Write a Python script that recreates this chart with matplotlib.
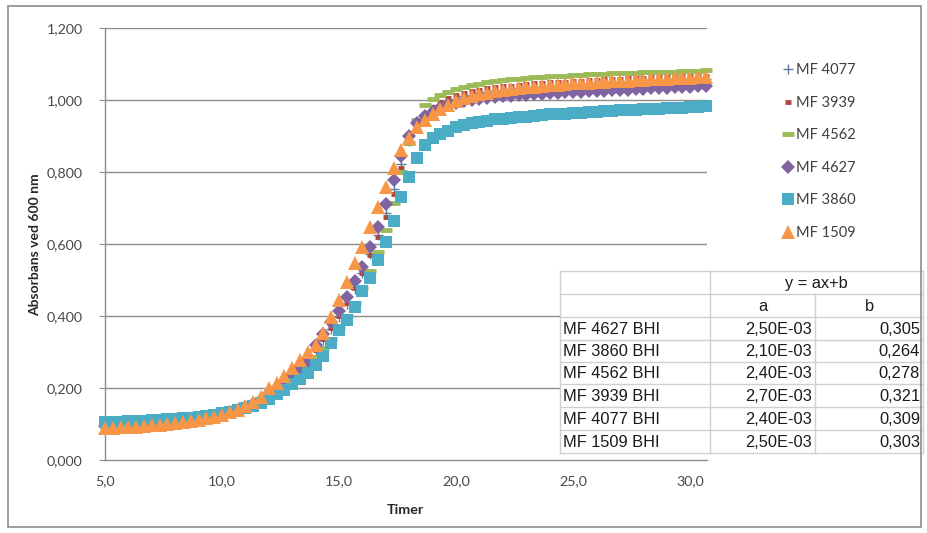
import numpy as np
import matplotlib
matplotlib.use("Agg")
import matplotlib.pyplot as plt
from matplotlib.ticker import FuncFormatter, FixedLocator
from matplotlib.patches import Rectangle

# ---- data -------------------------------------------------------------
hours = np.round(5 + np.arange(78) / 3.0, 3)   # 20-minute readings, 5.0 .. 30.67 h

mf4077 = [0.098, 0.098, 0.099, 0.100, 0.101, 0.102, 0.103, 0.105, 0.107, 0.109, 0.111, 0.114,
          0.117, 0.121, 0.125, 0.130, 0.135, 0.141, 0.149, 0.159, 0.170, 0.187, 0.202, 0.219,
          0.238, 0.259, 0.281, 0.306, 0.334, 0.365, 0.398, 0.434, 0.476, 0.520, 0.572, 0.625,
          0.685, 0.752, 0.822, 0.885, 0.930, 0.958, 0.975, 0.987, 0.997, 1.004, 1.010, 1.015,
          1.019, 1.022, 1.025, 1.028, 1.030, 1.032, 1.034, 1.036, 1.037, 1.039, 1.040, 1.041,
          1.043, 1.044, 1.045, 1.046, 1.047, 1.048, 1.049, 1.050, 1.051, 1.052, 1.053, 1.053,
          1.054, 1.055, 1.056, 1.056, 1.057, 1.058]
mf3939 = [0.097, 0.097, 0.098, 0.099, 0.100, 0.101, 0.102, 0.104, 0.106, 0.108, 0.110, 0.113,
          0.116, 0.120, 0.124, 0.129, 0.134, 0.140, 0.148, 0.158, 0.169, 0.186, 0.201, 0.218,
          0.237, 0.258, 0.280, 0.305, 0.335, 0.368, 0.400, 0.435, 0.478, 0.520, 0.570, 0.620,
          0.675, 0.740, 0.810, 0.880, 0.930, 0.960, 0.980, 0.995, 1.006, 1.014, 1.020, 1.025,
          1.029, 1.032, 1.035, 1.038, 1.040, 1.042, 1.044, 1.046, 1.047, 1.049, 1.050, 1.051,
          1.053, 1.054, 1.055, 1.056, 1.057, 1.058, 1.059, 1.060, 1.061, 1.062, 1.063, 1.063,
          1.064, 1.065, 1.066, 1.066, 1.067, 1.068]
mf4562 = [0.100, 0.100, 0.101, 0.102, 0.103, 0.104, 0.105, 0.107, 0.109, 0.111, 0.113, 0.116,
          0.119, 0.122, 0.126, 0.130, 0.135, 0.141, 0.148, 0.157, 0.167, 0.180, 0.194, 0.209,
          0.226, 0.244, 0.264, 0.286, 0.310, 0.337, 0.367, 0.400, 0.437, 0.478, 0.525, 0.578,
          0.640, 0.715, 0.800, 0.880, 0.945, 0.985, 1.002, 1.013, 1.022, 1.030, 1.036, 1.041,
          1.045, 1.049, 1.052, 1.055, 1.057, 1.059, 1.061, 1.063, 1.064, 1.066, 1.067, 1.068,
          1.069, 1.070, 1.071, 1.072, 1.073, 1.074, 1.075, 1.075, 1.076, 1.077, 1.077, 1.078,
          1.079, 1.079, 1.080, 1.080, 1.081, 1.082]
mf4627 = [0.095, 0.095, 0.096, 0.097, 0.098, 0.099, 0.100, 0.102, 0.104, 0.106, 0.108, 0.111,
          0.114, 0.118, 0.122, 0.127, 0.132, 0.138, 0.146, 0.156, 0.167, 0.185, 0.200, 0.216,
          0.235, 0.255, 0.275, 0.320, 0.350, 0.382, 0.415, 0.452, 0.496, 0.537, 0.592, 0.646,
          0.712, 0.778, 0.845, 0.900, 0.935, 0.955, 0.968, 0.978, 0.985, 0.991, 0.996, 1.000,
          1.003, 1.006, 1.008, 1.010, 1.012, 1.014, 1.015, 1.017, 1.018, 1.019, 1.020, 1.021,
          1.022, 1.023, 1.024, 1.025, 1.026, 1.027, 1.028, 1.029, 1.030, 1.031, 1.032, 1.033,
          1.034, 1.035, 1.036, 1.037, 1.038, 1.039]
mf3860 = [0.105, 0.105, 0.106, 0.107, 0.108, 0.109, 0.110, 0.111, 0.113, 0.114, 0.116, 0.118,
          0.120, 0.123, 0.126, 0.130, 0.134, 0.139, 0.145, 0.151, 0.158, 0.170, 0.182, 0.195,
          0.210, 0.226, 0.242, 0.265, 0.290, 0.325, 0.360, 0.390, 0.425, 0.470, 0.505, 0.555,
          0.605, 0.665, 0.730, 0.785, 0.840, 0.875, 0.895, 0.905, 0.915, 0.925, 0.930, 0.935,
          0.940, 0.943, 0.946, 0.948, 0.950, 0.952, 0.954, 0.956, 0.958, 0.960, 0.961, 0.962,
          0.964, 0.965, 0.966, 0.968, 0.969, 0.970, 0.971, 0.972, 0.973, 0.974, 0.975, 0.976,
          0.977, 0.978, 0.979, 0.980, 0.981, 0.982]
mf1509 = [0.090, 0.090, 0.091, 0.092, 0.093, 0.094, 0.096, 0.098, 0.100, 0.102, 0.105, 0.108,
          0.112, 0.116, 0.120, 0.126, 0.132, 0.140, 0.150, 0.162, 0.175, 0.200, 0.215, 0.232,
          0.255, 0.278, 0.300, 0.320, 0.352, 0.398, 0.444, 0.495, 0.546, 0.593, 0.648, 0.704,
          0.759, 0.810, 0.860, 0.895, 0.925, 0.945, 0.962, 0.975, 0.987, 0.997, 1.005, 1.011,
          1.016, 1.020, 1.024, 1.027, 1.030, 1.033, 1.035, 1.037, 1.039, 1.041, 1.043, 1.044,
          1.046, 1.047, 1.048, 1.050, 1.051, 1.052, 1.053, 1.054, 1.055, 1.056, 1.057, 1.058,
          1.059, 1.060, 1.061, 1.062, 1.063, 1.064]

series_names = ["MF 4077", "MF 3939", "MF 4562", "MF 4627", "MF 3860", "MF 1509"]
series_vals = [mf4077, mf3939, mf4562, mf4627, mf3860, mf1509]

x_ticks = [5, 10, 15, 20, 25, 30]
y_ticks = [0.0, 0.2, 0.4, 0.6, 0.8, 1.0, 1.2]

table_rows = ["MF 4627 BHI", "MF 3860 BHI", "MF 4562 BHI", "MF 3939 BHI", "MF 4077 BHI", "MF 1509 BHI"]
table_a = ["2,50E-03", "2,10E-03", "2,40E-03", "2,70E-03", "2,40E-03", "2,50E-03"]
table_b = ["0,305", "0,264", "0,278", "0,321", "0,309", "0,303"]

# ---- styles -----------------------------------------------------------
styles = [
    dict(marker="+", color="#5B7BA6", ms=7, mew=1.0),
    dict(marker="_", color="#B0473F", ms=5, mew=3.5),
    dict(marker="_", color="#9BBB59", ms=9, mew=3.5),
    dict(marker="D", color="#8064A2", ms=7.2, mew=0),
    dict(marker="s", color="#4BACC6", ms=8.4, mew=0),
    dict(marker="^", color="#F79646", ms=9.6, mew=0),
]

W, H = 928, 533
fig = plt.figure(figsize=(W / 100, H / 100), dpi=100)
fig.patch.set_facecolor("white")

def fx(px):
    return px / W

def fy(py):
    return 1 - py / H

left, right, top, bottom = 105, 707, 28, 460
ax = fig.add_axes([fx(left), fy(bottom), fx(right) - fx(left), (bottom - top) / H])
ax.set_xlim(5, 30.72)
ax.set_ylim(0, 1.2)

grid_c = "#8C8C8C"
for yv in y_ticks[1:]:
    ax.axhline(yv, color=grid_c, lw=1.0, zorder=0)

handles = []
for name, vals, st in zip(series_names, series_vals, styles):
    h, = ax.plot(hours, vals, linestyle="none", marker=st["marker"], color=st["color"],
                 markersize=st["ms"], markeredgewidth=st["mew"], label=name, clip_on=False,
                 zorder=3)
    handles.append(h)

for sp in ["top", "right"]:
    ax.spines[sp].set_visible(False)
for sp in ["left", "bottom"]:
    ax.spines[sp].set_color(grid_c)
    ax.spines[sp].set_linewidth(1.0)

ax.yaxis.set_major_locator(FixedLocator(y_ticks))
ax.xaxis.set_major_locator(FixedLocator(x_ticks))
ax.yaxis.set_major_formatter(FuncFormatter(lambda v, p: f"{v:.3f}".replace(".", ",")))
ax.xaxis.set_major_formatter(FuncFormatter(lambda v, p: f"{v:.1f}".replace(".", ",")))
ax.tick_params(axis="y", length=4, color=grid_c, pad=12, labelsize=10.3, labelcolor="#4a4a4a")
ax.tick_params(axis="x", length=0, pad=11, labelsize=10.3, labelcolor="#4a4a4a")
for lab in ax.get_xticklabels() + ax.get_yticklabels():
    lab.set_fontfamily("Lato")

fig.text(fx(35), fy(245), "Absorbans ved 600 nm", rotation=90, ha="center", va="center",
         fontsize=10, fontweight="bold", family="Lato", color="#262626")
fig.text(fx(405), fy(510), "Timer", ha="center", va="center",
         fontsize=10.3, fontweight="bold", family="Lato", color="#262626")

leg = fig.legend(handles=handles, loc="upper left", bbox_to_anchor=(fx(768), fy(50)),
                 frameon=False, handlelength=0.9, handletextpad=0.15, labelspacing=1.27,
                 prop=dict(family="Lato", size=10.5), numpoints=1)
for t in leg.get_texts():
    t.set_color("#404040")

# ---- overlay: table and frame ------------------------------------------
ov = fig.add_axes([0, 0, 1, 1], zorder=10)
ov.set_xlim(0, W)
ov.set_ylim(H, 0)
ov.axis("off")
ov.patch.set_alpha(0)

tx0, tx1, tx2, tx3 = 560, 710, 815, 923
ty = [271, 294, 317, 340, 362, 384, 407, 430, 453]
ov.add_patch(Rectangle((tx0, ty[0]), tx3 - tx0, ty[-1] - ty[0], facecolor="white",
                       edgecolor="none", zorder=1))
lc = "#D0D0D0"
for yy in ty:
    ov.plot([tx0, tx3], [yy, yy], color=lc, lw=1, zorder=2)
ov.plot([tx0, tx0], [ty[0], ty[-1]], color=lc, lw=1, zorder=2)
ov.plot([tx1, tx1], [ty[0], ty[-1]], color=lc, lw=1, zorder=2)
ov.plot([tx2, tx2], [ty[1], ty[-1]], color=lc, lw=1, zorder=2)
ov.plot([tx3, tx3], [ty[0], ty[-1]], color=lc, lw=1, zorder=2)

tf = dict(family="Liberation Sans", fontsize=11.8, color="#1a1a1a", zorder=3)
ov.text((tx1 + tx3) / 2, (ty[0] + ty[1]) / 2 + 1, "y = ax+b", ha="center", va="center", **tf)
ov.text((tx1 + tx2) / 2, (ty[1] + ty[2]) / 2 + 1, "a", ha="center", va="center", **tf)
ov.text((tx2 + tx3) / 2, (ty[1] + ty[2]) / 2 + 1, "b", ha="center", va="center", **tf)
for i, (rn, a, b) in enumerate(zip(table_rows, table_a, table_b)):
    yc = (ty[i + 2] + ty[i + 3]) / 2 + 1
    ov.text(tx0 + 3, yc, rn, ha="left", va="center", **tf)
    ov.text(tx2 - 3, yc, a, ha="right", va="center", **tf)
    ov.text(tx3 - 3, yc, b, ha="right", va="center", **tf)

ov.add_patch(Rectangle((8, 6), 913, 521, facecolor="none", edgecolor="#8C8C8C", lw=1.2, zorder=4))

fig.savefig("out.png", dpi=100, facecolor="white")
